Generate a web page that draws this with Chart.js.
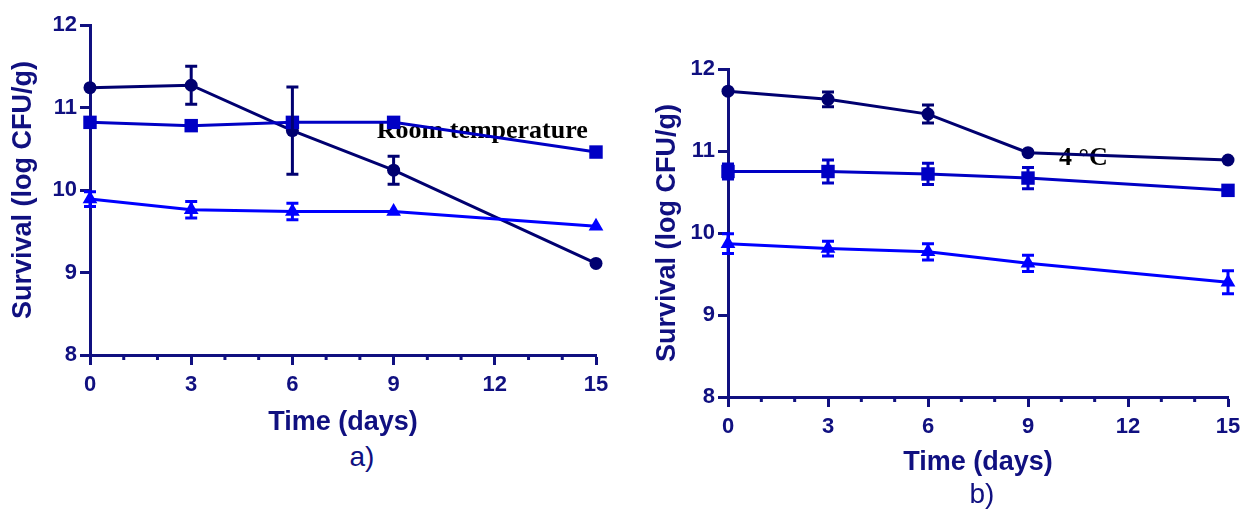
<!DOCTYPE html>
<html>
<head>
<meta charset="utf-8">
<script src="https://cdn.jsdelivr.net/npm/chart.js@4.4.1/dist/chart.umd.min.js"></script>
<style>
  html, body { margin: 0; padding: 0; background: #fff; }
  body { width: 1243px; height: 510px; position: relative; overflow: hidden; }
  .panel { position: absolute; }
  .tag {
    position: absolute;
    font-family: 'Liberation Sans', Arial, sans-serif;
    font-size: 28px;
    color: #101080;
    transform: translate(-50%, -50%);
    white-space: nowrap;
  }
</style>
</head>
<body>
<div class="panel" style="left:0;top:0;width:620px;height:440px"><canvas id="roomChart"></canvas></div>
<div class="panel" style="left:630px;top:40px;width:613px;height:440px"><canvas id="coldChart"></canvas></div>
<div class="tag" style="left:362px;top:457px">a)</div>
<div class="tag" style="left:982px;top:494px">b)</div>

<script>
// sampling days
const days = [0, 3, 6, 9, 15]

// room temperature storage (log CFU/g) and SD
const roomCircle = [11.24, 11.27, 10.72, 10.24, 9.11]
const roomCircleErr = [0, 0.23, 0.53, 0.17, 0]
const roomSquare = [10.82, 10.78, 10.82, 10.82, 10.46]
const roomSquareErr = [0, 0, 0, 0, 0]
const roomTriangle = [9.89, 9.76, 9.74, 9.74, 9.56]
const roomTriangleErr = [0.09, 0.1, 0.1, 0, 0]

// 4 °C storage
const coldCircle = [11.73, 11.63, 11.45, 10.98, 10.89]
const coldCircleErr = [0, 0.09, 0.11, 0, 0]
const coldSquare = [10.75, 10.75, 10.72, 10.67, 10.52]
const coldSquareErr = [0.09, 0.14, 0.13, 0.13, 0]
const coldTriangle = [9.87, 9.81, 9.77, 9.63, 9.40]
const coldTriangleErr = [0.12, 0.09, 0.1, 0.1, 0.14]

const xTicks = [0, 3, 6, 9, 12, 15]
const yTicks = [8, 9, 10, 11, 12]

const NAVY = '#101080'
const SANS = "'Liberation Sans', Arial, sans-serif"

const seriesStyle = [
  { color: '#000070', pointStyle: 'circle', radius: 6.5 },
  { color: '#0000C4', pointStyle: 'rect', radius: 9.5 },
  { color: '#0000FF', pointStyle: 'triangle', radius: 8.5 },
]

// vertical SD bars with caps
const errorBars = {
  id: 'errorBars',
  afterDatasetsDraw(chart) {
    const { ctx } = chart
    const xs = chart.scales.x
    const ys = chart.scales.y
    chart.data.datasets.forEach((ds) => {
      if (!ds.errors) return
      ctx.save()
      ctx.strokeStyle = ds.borderColor
      ctx.lineWidth = 3
      ds.data.forEach((p, i) => {
        const e = ds.errors[i]
        if (!e) return
        const px = xs.getPixelForValue(p.x)
        const top = ys.getPixelForValue(p.y + e)
        const bot = ys.getPixelForValue(p.y - e)
        ctx.beginPath()
        ctx.moveTo(px, top); ctx.lineTo(px, bot)
        ctx.moveTo(px - 6, top); ctx.lineTo(px + 6, top)
        ctx.moveTo(px - 6, bot); ctx.lineTo(px + 6, bot)
        ctx.stroke()
      })
      ctx.restore()
    })
  },
}

// short unlabelled ticks at every day
const minorTicks = {
  id: 'minorTicks',
  afterDraw(chart) {
    const { ctx } = chart
    const xs = chart.scales.x
    ctx.save()
    ctx.strokeStyle = NAVY
    ctx.lineWidth = 3
    for (let d = 1; d < 15; d++) {
      if (d % 3 === 0) continue
      const px = xs.getPixelForValue(d)
      ctx.beginPath()
      ctx.moveTo(px, xs.top)
      ctx.lineTo(px, xs.top + 5)
      ctx.stroke()
    }
    ctx.restore()
  },
}

// condition label inside the plot
const note = {
  id: 'note',
  beforeDatasetsDraw(chart, args, opts) {
    if (!opts.text) return
    const { ctx } = chart
    ctx.save()
    ctx.font = "bold 26px 'Liberation Serif', 'Times New Roman', serif"
    ctx.fillStyle = '#000'
    ctx.textAlign = 'center'
    ctx.textBaseline = 'middle'
    ctx.fillText(opts.text, chart.scales.x.getPixelForValue(opts.x), chart.scales.y.getPixelForValue(opts.y))
    ctx.restore()
  },
}

function makeDatasets(values, errors) {
  return values.map((vals, k) => ({
    data: days.map((d, i) => ({ x: d, y: vals[i] })),
    errors: errors[k],
    borderColor: seriesStyle[k].color,
    backgroundColor: seriesStyle[k].color,
    borderWidth: 3,
    pointStyle: seriesStyle[k].pointStyle,
    pointRadius: seriesStyle[k].radius,
    pointBorderWidth: 0,
    tension: 0,
    clip: false,
  })).reverse()
}

// keep label overhang from shrinking the plot area
function noOverhang(s) {
  s.paddingLeft = 0
  s.paddingRight = 0
  s.paddingTop = 0
  s.paddingBottom = 0
}

function renderPanel(canvasId, values, errors, box, label) {
  const canvas = document.getElementById(canvasId)
  return new Chart(canvas.getContext('2d'), {
    type: 'line',
    data: { datasets: makeDatasets(values, errors) },
    plugins: [errorBars, minorTicks, note],
    options: {
      responsive: true,
      maintainAspectRatio: false,
      animation: false,
      layout: { autoPadding: false, padding: { top: box.top, right: box.right, left: box.left, bottom: 0 } },
      plugins: {
        legend: { display: false },
        tooltip: { enabled: false },
        note: label,
      },
      scales: {
        x: {
          type: 'linear',
          min: 0,
          max: 15,
          afterBuildTicks: (s) => { s.ticks = xTicks.map((v) => ({ value: v })) },
          afterFit: (s) => { s.height = box.xHeight; noOverhang(s) },
          grid: { drawOnChartArea: false, tickLength: 10, tickWidth: 3, tickColor: NAVY },
          border: { width: 3, color: NAVY },
          ticks: { color: NAVY, padding: 7, maxRotation: 0, font: { family: SANS, size: 22, weight: 'bold' } },
          title: { display: true, text: 'Time (days)', color: NAVY, padding: { top: 4, bottom: 1 }, font: { family: SANS, size: 27, weight: 'bold' } },
        },
        y: {
          min: 8,
          max: 12,
          afterBuildTicks: (s) => { s.ticks = yTicks.map((v) => ({ value: v })) },
          afterFit: (s) => { s.width = box.yWidth; noOverhang(s) },
          grid: { drawOnChartArea: false, tickLength: 10, tickWidth: 3, tickColor: NAVY },
          border: { width: 3, color: NAVY },
          ticks: { color: NAVY, padding: 3, font: { family: SANS, size: 22, weight: 'bold' } },
          title: { display: true, text: 'Survival (log CFU/g)', color: NAVY, padding: { top: 0, bottom: 0 }, font: { family: SANS, size: 27, weight: 'bold' } },
        },
      },
    },
  })
}

renderPanel('roomChart',
  [roomCircle, roomSquare, roomTriangle],
  [roomCircleErr, roomSquareErr, roomTriangleErr],
  { top: 25, right: 24, left: 7, yWidth: 83, xHeight: 85 },
  { text: 'Room temperature', x: 11.63, y: 10.71 })

renderPanel('coldChart',
  [coldCircle, coldSquare, coldTriangle],
  [coldCircleErr, coldSquareErr, coldTriangleErr],
  { top: 29, right: 15, left: 21, yWidth: 77, xHeight: 83 },
  { text: '4 °C', x: 10.66, y: 10.91 })
</script>
</body>
</html>
